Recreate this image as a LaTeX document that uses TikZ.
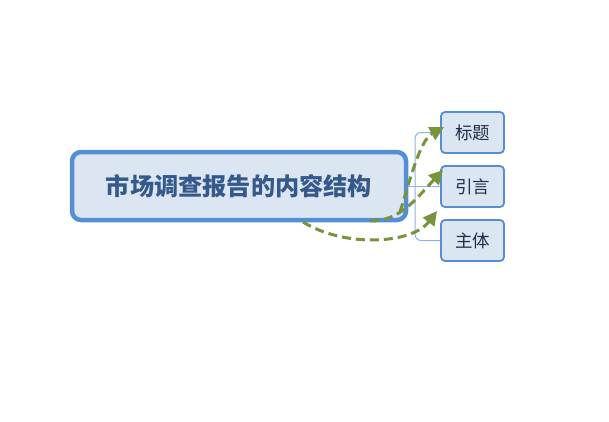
\documentclass[tikz,border=0pt]{standalone}
\usepackage{fontspec}
\newfontfamily\cjk{Noto Sans CJK SC}
\usetikzlibrary{arrows.meta}
\definecolor{boxfill}{HTML}{DCE6F2}
\definecolor{boxline}{HTML}{558ED5}
\definecolor{maintext}{HTML}{35598A}
\definecolor{subtext}{HTML}{1F2D4A}
\definecolor{linkline}{HTML}{8DB3E2}
\definecolor{arrowgreen}{HTML}{77933C}
\tikzset{
  mainbox/.style={draw=boxline, fill=boxfill, line width=4.5pt, rounded corners=9pt,
    minimum width=334pt, minimum height=68pt, inner sep=0pt,
    font=\cjk\bfseries\fontsize{24.2}{27}\selectfont, text=maintext},
  subbox/.style={draw=boxline, fill=boxfill, line width=1.8pt, rounded corners=4pt,
    minimum width=63pt, minimum height=41pt, inner sep=0pt,
    font=\cjk\fontsize{17.5}{19}\selectfont, text=subtext},
  link/.style={draw=linkline, line width=1pt, rounded corners=6pt},
  greenarrow/.style={draw=arrowgreen, line width=3pt, dash pattern=on 9pt off 5pt,
    -{Triangle[length=14pt,width=14pt]}}
}
\begin{document}
\begin{tikzpicture}[x=1pt,y=-1pt]
\useasboundingbox[fill=white] (0,0) rectangle (609,421);
\coordinate (j) at (415,186);
\node[subbox] (t1) at (472.5,132.5) {标题};
\node[subbox] (t2) at (472.5,186.5) {引言};
\node[subbox] (t3) at (472.5,240.5) {主体};
\draw[link] (j) |- (t1.west);
\draw[link] (j) |- (t3.west);
\node[mainbox] (main) at (239,186) {市场调查报告的内容结构};
\draw[link] (main.east) -- (t2.west |- main.east);
\coordinate (sa) at (400,212);
\coordinate (sb) at (370,221);
\coordinate (sc) at (303,222);
\coordinate (ea) at (444,127);
\coordinate (eb) at (443,170);
\coordinate (ec) at (437,211);
\draw[greenarrow] (sa) .. controls (410,180) and (420,140) .. (ea);
\draw[greenarrow] (sb) .. controls (400,221) and (415,200) .. (eb);
\draw[greenarrow] (sc) .. controls (345,248) and (412,244) .. (ec);
\end{tikzpicture}
\end{document}
